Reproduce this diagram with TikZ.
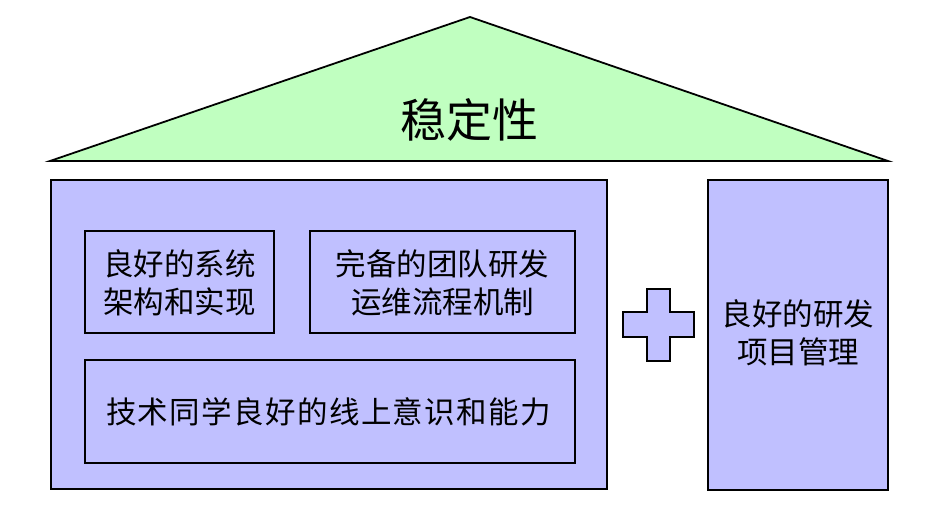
\documentclass[tikz,border=0pt]{standalone}
\usepackage{fontspec}
\newfontfamily\cjk{Noto Sans CJK SC}
\newfontfamily\cjkwide[LetterSpace=4.5]{Noto Sans CJK SC}
\definecolor{roofgreen}{HTML}{C0FFC0}
\definecolor{wallblue}{HTML}{C0C0FF}
\begin{document}
\begin{tikzpicture}[x=1pt,y=-1pt,
  part/.style={draw=black,line width=1.8pt,fill=wallblue},
  lbl/.style={font=\cjk\fontsize{30.5}{38}\selectfont,align=center,inner sep=0pt}]
\useasboundingbox (0,0) rectangle (946,515);
% roof
\draw[line width=1.8pt,fill=roofgreen,line join=miter] (50,161) -- (470,17) -- (888,161) -- cycle;
\node[inner sep=0pt,font=\cjk\fontsize{46}{50}\selectfont] (roof) at (469,120) {稳定性};
% main wall
\draw[part] (51,180) rectangle (607,489);
\node[part,minimum width=189pt,minimum height=102pt,inner sep=0pt] (sys) at (179.5,282) {};
\node[lbl] at ([yshift=-1pt]sys.center) {良好的系统\\架构和实现};
\node[part,minimum width=265pt,minimum height=102pt,inner sep=0pt] (proc) at (442.5,282) {};
\node[lbl] at ([yshift=-1pt]proc.center) {完备的团队研发\\运维流程机制};
\node[part,minimum width=490pt,minimum height=103pt,inner sep=0pt] (online) at (330,411.5) {};
\node[inner sep=0pt,font=\cjkwide\fontsize{30.5}{38}\selectfont] at ([xshift=-1.5pt]online.center) {技术同学良好的线上意识和能力};
% plus
\draw[part,line join=miter] (647,289) -- (670,289) -- (670,312) -- (694,312) -- (694,337) -- (670,337) -- (670,361) -- (647,361) -- (647,337) -- (623,337) -- (623,312) -- (647,312) -- cycle;
% right pillar
\node[part,minimum width=180pt,minimum height=310pt,inner sep=0pt] (pm) at (798,335) {};
\node[lbl] at ([yshift=2pt]pm.center) {良好的研发\\项目管理};
\end{tikzpicture}
\end{document}
